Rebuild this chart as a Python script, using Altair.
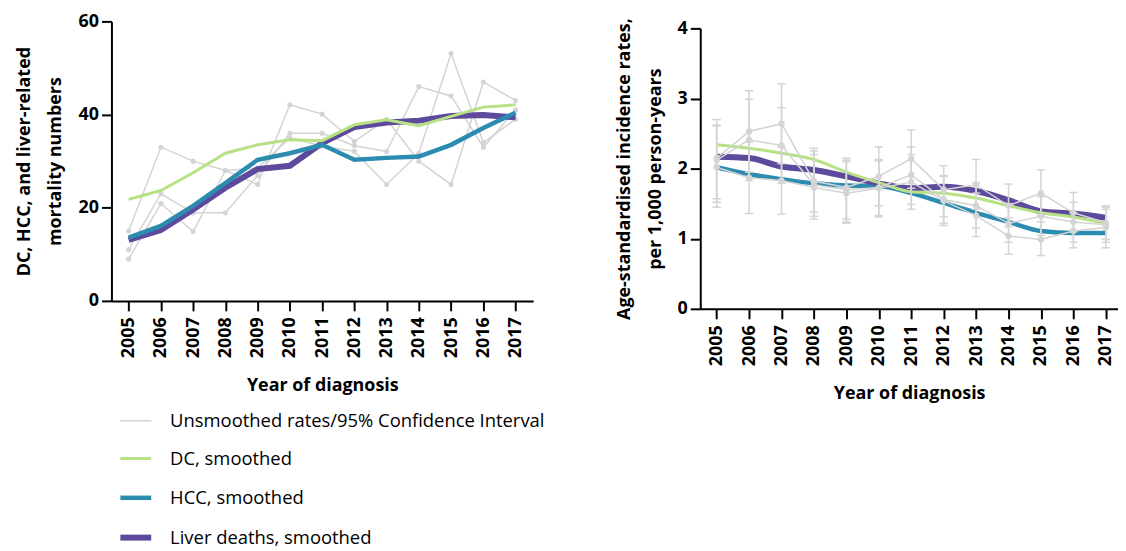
import altair as alt
import pandas as pd

years = [2005, 2006, 2007, 2008, 2009, 2010, 2011, 2012, 2013, 2014, 2015, 2016, 2017]

TYPES = ["Unsmoothed rates/95% Confidence Interval", "DC, smoothed", "HCC, smoothed", "Liver deaths, smoothed"]
COLORS = ["#d4d4d4", "#b8e186", "#2b8cb0", "#5e4a9c"]
WIDTHS = [1.5, 6, 6, 6]
GRAY = "#d4d4d4"
FONT = "Open Sans"

# ---- left panel: mortality numbers ----
dc_smooth_n = [21.8, 23.7, 27.5, 31.7, 33.5, 34.6, 34.4, 37.8, 38.9, 37.6, 39.6, 41.6, 42.1]
hcc_smooth_n = [13.6, 16.1, 20.4, 25.3, 30.3, 31.7, 33.5, 30.3, 30.7, 31.0, 33.5, 37.1, 40.4]
liver_smooth_n = [13.1, 15.2, 19.6, 24.3, 28.3, 29.0, 33.9, 37.3, 38.3, 38.7, 39.7, 39.9, 39.4]

raw_a_n = [15.0, 33.0, 30.0, 28.0, 25.0, 42.1, 40.1, 34.2, 39.0, 30.0, 25.0, 47.0, 43.0]
raw_b_n = [11.0, 23.0, 18.9, 18.9, 26.9, 36.0, 36.0, 33.3, 32.1, 46.0, 44.0, 33.0, 41.0]
raw_c_n = [9.0, 20.9, 14.9, 28.0, 28.5, 35.0, 33.2, 32.1, 25.0, 31.7, 53.1, 34.0, 39.0]

# ---- right panel: incidence rates ----
dc_smooth_r = [2.34, 2.29, 2.22, 2.13, 1.95, 1.80, 1.67, 1.65, 1.58, 1.47, 1.37, 1.31, 1.22]
hcc_smooth_r = [2.02, 1.92, 1.85, 1.79, 1.76, 1.75, 1.65, 1.51, 1.37, 1.24, 1.11, 1.08, 1.08]
liver_smooth_r = [2.17, 2.15, 2.03, 1.98, 1.89, 1.79, 1.72, 1.74, 1.68, 1.55, 1.39, 1.36, 1.30]

raw_a_r = [2.15, 2.53, 2.64, 1.82, 1.73, 1.89, 2.14, 1.70, 1.77, 1.47, 1.65, 1.37, 1.23]
raw_a_lo = [1.57, 1.95, 2.07, 1.38, 1.28, 1.47, 1.72, 1.31, 1.42, 1.17, 1.33, 1.10, 0.99]
raw_a_hi = [2.70, 3.11, 3.21, 2.29, 2.15, 2.31, 2.55, 2.04, 2.13, 1.78, 1.98, 1.66, 1.47]
raw_b_r = [2.12, 2.41, 2.33, 1.77, 1.70, 1.73, 1.91, 1.56, 1.47, 1.22, 1.32, 1.24, 1.20]
raw_b_lo = [1.52, 1.83, 1.79, 1.32, 1.24, 1.31, 1.49, 1.22, 1.15, 0.95, 1.05, 0.95, 0.95]
raw_b_hi = [2.61, 2.99, 2.87, 2.25, 2.12, 2.11, 2.31, 1.90, 1.80, 1.50, 1.60, 1.52, 1.45]
raw_c_r = [2.02, 1.87, 1.83, 1.73, 1.65, 1.72, 1.81, 1.54, 1.33, 1.04, 0.99, 1.11, 1.16]
raw_c_lo = [1.45, 1.36, 1.35, 1.28, 1.22, 1.33, 1.42, 1.19, 1.03, 0.78, 0.76, 0.87, 0.87]
raw_c_hi = [2.62, 2.38, 2.31, 2.20, 2.10, 2.13, 2.20, 1.89, 1.65, 1.30, 1.24, 1.37, 1.42]


def smooth_df(dc, hcc, liver):
    rows = []
    for t, vals in zip(TYPES[1:], [dc, hcc, liver]):
        for y, v in zip(years, vals):
            rows.append({"year": y, "value": v, "type": t})
    return pd.DataFrame(rows)


def raw_df(series):
    rows = []
    for sid, (vals, lo, hi) in enumerate(series):
        for i, y in enumerate(years):
            r = {"year": y, "value": vals[i], "type": TYPES[0], "series": sid}
            if lo is not None:
                r["lo"] = lo[i]
                r["hi"] = hi[i]
            rows.append(r)
    return pd.DataFrame(rows)


color = alt.Color("type:N", scale=alt.Scale(domain=TYPES, range=COLORS),
                  legend=alt.Legend(title=None, labelLimit=0))
swidth = alt.StrokeWidth("type:N", scale=alt.Scale(domain=TYPES, range=WIDTHS),
                         legend=alt.Legend(title=None, labelLimit=0))

XAX = dict(values=years, format="d", labelAngle=270, title="Year of diagnosis", titlePadding=19, labelPadding=6)

# Left chart
xl = alt.X("year:Q", scale=alt.Scale(domain=[2004.466, 2017.546], nice=False, zero=False), axis=alt.Axis(**XAX))
yl = alt.Y("value:Q", scale=alt.Scale(domain=[0, 60], nice=False),
           axis=alt.Axis(values=[0, 20, 40, 60], title=["DC, HCC, and liver-related", "mortality numbers"],
                         titleLineHeight=31, titlePadding=14))

sm_n = smooth_df(dc_smooth_n, hcc_smooth_n, liver_smooth_n)
rw_n = raw_df([(raw_a_n, None, None), (raw_b_n, None, None), (raw_c_n, None, None)])

left_gray = alt.Chart(rw_n).mark_line().encode(x=xl, y=yl, color=color, strokeWidth=swidth, detail="series:N")
left_pts = alt.Chart(rw_n).mark_point(filled=True, size=26, opacity=1).encode(x=xl, y=yl, color=alt.value(GRAY))
left_layers = [left_gray, left_pts]
for t in [TYPES[3], TYPES[1], TYPES[2]]:
    left_layers.append(
        alt.Chart(sm_n).transform_filter(alt.datum.type == t).mark_line(strokeCap="butt")
        .encode(x=xl, y=yl, color=color, strokeWidth=swidth)
    )
left = alt.layer(*left_layers).properties(width=424, height=281)

# Right chart (plot drawn 7px lower than the left one through its y range)
RH = 289
yscale_r = alt.Scale(domain=[0, 4], nice=False, range=[RH, 7])
xr = alt.X("year:Q", scale=alt.Scale(domain=[2004.494, 2017.377], nice=False, zero=False), axis=alt.Axis(**XAX))
yr = alt.Y("value:Q", scale=yscale_r,
           axis=alt.Axis(values=[0, 1, 2, 3, 4], format="d",
                         title=["Age-standardised incidence rates,", "per 1,000 person-years"],
                         titleLineHeight=31, titlePadding=12.5))

sm_r = smooth_df(dc_smooth_r, hcc_smooth_r, liver_smooth_r)
rw_r = raw_df([(raw_a_r, raw_a_lo, raw_a_hi), (raw_b_r, raw_b_lo, raw_b_hi), (raw_c_r, raw_c_lo, raw_c_hi)])

right_layers = []
for t in [TYPES[2], TYPES[3], TYPES[1]]:
    right_layers.append(
        alt.Chart(sm_r).transform_filter(alt.datum.type == t).mark_line(strokeCap="butt", interpolate="monotone")
        .encode(x=xr, y=yr, color=color, strokeWidth=swidth)
    )
right_err = alt.Chart(rw_r).mark_rule(strokeWidth=1.5).encode(
    x=xr, y=alt.Y("lo:Q", scale=yscale_r), y2="hi:Q", color=alt.value(GRAY))
right_cap_lo = alt.Chart(rw_r).mark_point(shape="stroke", size=70, strokeWidth=1.5, opacity=1).encode(
    x=xr, y=alt.Y("lo:Q", scale=yscale_r), color=alt.value(GRAY))
right_cap_hi = alt.Chart(rw_r).mark_point(shape="stroke", size=70, strokeWidth=1.5, opacity=1).encode(
    x=xr, y=alt.Y("hi:Q", scale=yscale_r), color=alt.value(GRAY))
right_gray = alt.Chart(rw_r).mark_line().encode(x=xr, y=yr, color=color, strokeWidth=swidth, detail="series:N")
right_pts = alt.Chart(rw_r).mark_point(filled=True, size=40, opacity=1).encode(x=xr, y=yr, color=alt.value(GRAY))
right_layers += [right_err, right_cap_lo, right_cap_hi, right_gray, right_pts]
right = alt.layer(*right_layers).properties(width=420, height=RH)

chart = alt.hconcat(left, right, spacing=83).configure(
    font=FONT,
    padding={"left": 7, "top": 3, "right": 0, "bottom": 0},
).configure_axis(
    domainColor="black", domainWidth=2, tickColor="black", tickWidth=2, tickSize=10,
    labelFont=FONT, labelFontSize=18, labelFontWeight="bold", labelColor="black", labelPadding=3,
    titleFont=FONT, titleFontSize=18, titleFontWeight="bold", titleColor="black", grid=False,
).configure_view(stroke=None).configure_legend(
    orient="none", legendX=6, legendY=385, symbolType="stroke", symbolSize=961,
    labelFont=FONT, labelFontSize=18.5, labelColor="black", rowPadding=11.5, padding=0, labelOffset=16,
    symbolStrokeColor=GRAY, labelLimit=0,
)

chart.save("out.html", embed_options={"renderer": "svg", "actions": False})
